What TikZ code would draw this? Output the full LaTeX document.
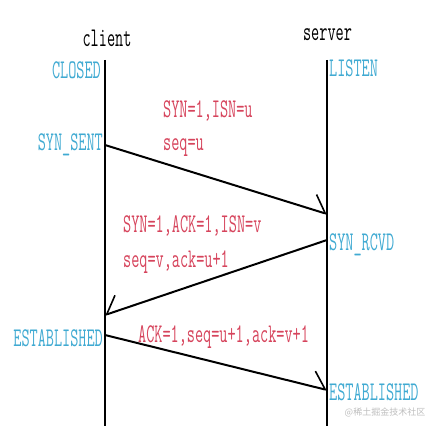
\documentclass[tikz,border=0pt]{standalone}
\usepackage{fontspec}
\usepackage{tikz}
\usetikzlibrary{arrows.meta}
\newfontfamily\cjkfont{Noto Sans CJK SC}
\definecolor{stateblue}{RGB}{64,170,210}
\definecolor{msgred}{RGB}{214,68,92}
\definecolor{markgray}{RGB}{190,190,190}
\tikzset{
  txt/.style={font=\ttfamily\fontsize{27}{27}\selectfont, xscale=0.585, inner sep=0pt},
  statelabel/.style={txt, text=stateblue},
  msglabel/.style={txt, text=msgred},
  msg/.style={line width=2pt},
}

\begin{document}
\begin{tikzpicture}[x=1pt,y=1pt]
        % 画布大小
        \useasboundingbox (0,0) rectangle (438,426);
        \newcommand{\clientx}{105}
        \newcommand{\serverx}{327}

        % 两条时间线
        \coordinate (ctop) at (\clientx,366);
        \coordinate (cbot) at (\clientx,0);
        \coordinate (stop) at (\serverx,366);
        \coordinate (sbot) at (\serverx,0);
        \draw[line width=1.6pt] (ctop) -- (cbot);
        \draw[line width=1.6pt] (stop) -- (sbot);
        \node[txt] (client) at (107,388) {client};
        \node[txt] (server) at (327.5,391) {server};

        % 状态
        \node[statelabel,anchor=east] (closed) at (101,356) {CLOSED};
        \node[statelabel,anchor=west] (listen) at (329,358) {LISTEN};
        \node[statelabel,anchor=east] (synsent) at (103,281) {SYN\_SENT};
        \node[statelabel,anchor=west] (synrcvd) at (329,181) {SYN\_RCVD};
        \node[statelabel,anchor=east] (estc) at (103,88) {ESTABLISHED};
        \node[statelabel,anchor=west] (ests) at (329,34) {ESTABLISHED};

        % 报文的起点和终点
        \coordinate (m1a) at (\clientx,281);
        \coordinate (m1b) at (\serverx,212);
        \coordinate (m2a) at (\serverx,186);
        \coordinate (m2b) at (\clientx,111);
        \coordinate (m3a) at (\clientx,91);
        \coordinate (m3b) at (\serverx,36);

        % 三次握手
        \draw[msg,-{Straight Barb[left,length=14pt,width=31pt,line width=1.6pt]}] (m1a) -- (m1b);
        \draw[msg,-{Straight Barb[right,length=14pt,width=31pt,line width=1.6pt]}] (m2a) -- (m2b);
        \draw[msg,-{Straight Barb[left,length=14pt,width=31pt,line width=1.6pt]}] (m3a) -- (m3b);

        % 报文内容
        \node[msglabel,anchor=west] (syn1) at (163,315) {SYN=1,ISN=u};
        \node[msglabel,anchor=west] (seq1) at (163,278) {seq=u};
        \node[msglabel,anchor=west] (syn2) at (123,200) {SYN=1,ACK=1,ISN=v};
        \node[msglabel,anchor=west] (seq2) at (123,164) {seq=v,ack=u+1};
        \node[msglabel,anchor=west] (ack3) at (138,89) {ACK=1,seq=u+1,ack=v+1};

        % 水印
        \node[font=\cjkfont\fontsize{9}{9}\selectfont,text=markgray,inner sep=0pt] (mark) at (385,14) {@稀土掘金技术社区};
    \end{tikzpicture}
\end{document}
